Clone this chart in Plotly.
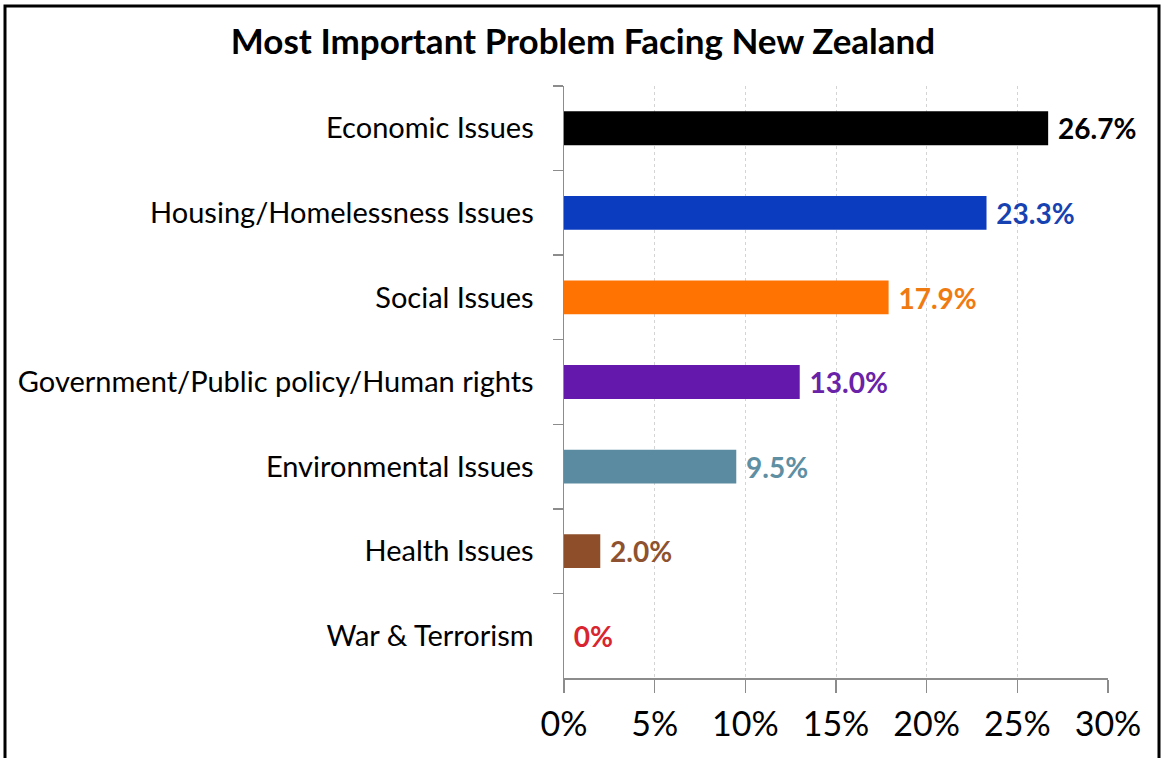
import plotly.graph_objects as go

categories = ["Economic Issues", "Housing/Homelessness Issues", "Social Issues",
              "Government/Public policy/Human rights", "Environmental Issues",
              "Health Issues", "War & Terrorism"]
values = [26.7, 23.3, 17.9, 13.0, 9.5, 2.0, 0.0]
value_labels = ["26.7%", "23.3%", "17.9%", "13.0%", "9.5%", "2.0%", "0%"]
bar_colors = ["#000000", "#0B3BBF", "#FF7302", "#6419AC", "#5A8BA0", "#8E4E2A", "#E0202F"]
label_colors = ["#000000", "#1742B2", "#F07A12", "#6A22A8", "#5E8FA3", "#8E5230", "#D9252F"]
x_ticks = [0, 5, 10, 15, 20, 25, 30]
x_tick_labels = ["0%", "5%", "10%", "15%", "20%", "25%", "30%"]

FONT = "Lato"

fig = go.Figure()
fig.add_trace(go.Bar(
    x=values, y=categories, orientation="h",
    marker=dict(color=bar_colors, line=dict(width=0)),
    width=0.4,
    text=value_labels, texttemplate="\u00a0%{text}",
    textposition="outside", cliponaxis=False,
    textfont=dict(family=FONT, size=29, color=label_colors, weight="bold"),
    hoverinfo="skip",
))

W, H = 1163, 758
L, R, T, B = 564, 55, 86, 80
pw, ph = W - L - R, H - T - B

def px(x):
    return (x - L) / pw

def py(y):
    return (H - B - y) / ph

fig.add_shape(type="rect", xref="paper", yref="paper",
              x0=px(5), x1=px(1159), y0=py(800), y1=py(6),
              line=dict(color="black", width=3), fillcolor="rgba(0,0,0,0)", layer="above")

fig.update_layout(
    width=W, height=H,
    margin=dict(l=L, r=R, t=T, b=B),
    paper_bgcolor="white", plot_bgcolor="white",
    showlegend=False,
    title=dict(text="<b>Most Important Problem Facing New Zealand</b>",
               x=583 / W, xanchor="center", y=1 - 42 / H, yanchor="middle",
               font=dict(family=FONT, size=35, color="black")),
    xaxis=dict(range=[0, 30], tickvals=x_ticks, ticktext=x_tick_labels,
               showgrid=True, gridcolor="#D4D4D4", griddash="3px,3px", gridwidth=1,
               showline=True, linecolor="#8C8C8C", linewidth=1.5,
               ticks="outside", ticklen=13, tickcolor="#8C8C8C", tickwidth=1.5,
               ticklabelstandoff=3,
               tickfont=dict(family=FONT, size=34, color="black"),
               zeroline=False, fixedrange=True),
    yaxis=dict(categoryorder="array", categoryarray=categories, autorange="reversed",
               showline=True, linecolor="#8C8C8C", linewidth=1.5,
               ticks="outside", ticklen=10, tickcolor="#8C8C8C", tickwidth=1.5,
               tickson="boundaries", ticklabelstandoff=23,
               tickfont=dict(family=FONT, size=29, color="black"),
               showgrid=False, zeroline=False, fixedrange=True),
    font=dict(family=FONT),
)

fig.write_html("out.html", config={"displayModeBar": False, "staticPlot": True},
               post_script="document.body.style.margin='0';")
